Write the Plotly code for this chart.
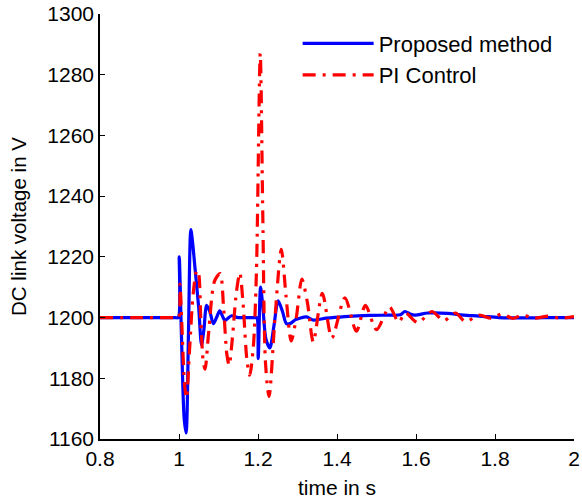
import plotly.graph_objects as go

# ---- data ----
t_proposed = [0.8, 0.9, 0.99, 0.998, 1.0006, 1.006, 1.013, 1.018, 1.024, 1.030, 1.035, 1.040,
              1.050, 1.057, 1.063, 1.070, 1.078, 1.087, 1.095, 1.103, 1.110, 1.116, 1.124,
              1.133, 1.15, 1.18, 1.192, 1.197, 1.2005, 1.2065, 1.212, 1.220, 1.230, 1.240, 1.251,
              1.262, 1.272, 1.281, 1.295, 1.306, 1.323, 1.339, 1.373, 1.42, 1.483, 1.53,
              1.56, 1.572, 1.585, 1.597, 1.63, 1.68, 1.72, 1.76, 1.81, 1.85, 1.90, 1.95, 2.0]
v_proposed = [1200, 1200, 1200, 1200, 1220, 1195, 1167, 1162, 1195, 1229, 1224, 1217,
              1203, 1191, 1196, 1204, 1202, 1198, 1200, 1202.2, 1200.5, 1199, 1199.8,
              1200.6, 1200, 1200, 1200, 1200, 1186.5, 1210, 1204, 1193, 1190, 1197, 1205.5,
              1202, 1198, 1198, 1199.3, 1199.8, 1200.2, 1199.2, 1199.8, 1200.3, 1200.7, 1200.8,
              1200.9, 1202, 1201.2, 1200.8, 1201.5, 1201.4, 1200.8, 1200.5, 1200, 1199.9, 1199.9, 1200, 1200]

t_pi = [0.8, 0.9, 0.99, 0.999, 1.0024, 1.008, 1.014, 1.019, 1.027, 1.036, 1.045, 1.049, 1.055,
        1.061, 1.066, 1.075, 1.090, 1.104, 1.113, 1.121, 1.127, 1.135, 1.145, 1.154, 1.162,
        1.172, 1.179, 1.188, 1.196, 1.2057, 1.212, 1.219, 1.228, 1.243, 1.259, 1.271, 1.284,
        1.297, 1.311, 1.325, 1.34, 1.363, 1.387, 1.42, 1.449, 1.472, 1.50, 1.533, 1.556,
        1.573, 1.605, 1.64, 1.67, 1.70, 1.725, 1.76, 1.79, 1.818, 1.845, 1.868, 1.90,
        1.935, 1.965, 2.0]
v_pi = [1200, 1200, 1200, 1200, 1211, 1195, 1178, 1173.5, 1190, 1208, 1215.5, 1215, 1200,
        1186, 1183, 1195, 1212, 1214.5, 1203, 1188, 1184.3, 1193, 1208, 1214.7, 1205,
        1186, 1181, 1190, 1215, 1287, 1235, 1185, 1174, 1200, 1222.5, 1207, 1192.3,
        1200, 1212.7, 1205, 1192, 1208, 1193.3, 1206.5, 1195.5, 1204, 1196, 1203.5, 1198.5,
        1201.5, 1198.3, 1202, 1199, 1201.5, 1198.7, 1200.8, 1199.8, 1201.2, 1199.7, 1200.8, 1199.8,
        1200.5, 1199.8, 1200.3]

x_ticks = [0.8, 1.0, 1.2, 1.4, 1.6, 1.8, 2.0]
x_ticktext = ["0.8", "1", "1.2", "1.4", "1.6", "1.8", "2"]
y_ticks = [1160, 1180, 1200, 1220, 1240, 1260, 1280, 1300]

FONT = "Liberation Sans, Arial, Helvetica, sans-serif"

fig = go.Figure()
fig.add_trace(go.Scatter(
    x=t_proposed, y=v_proposed, mode="lines", name="Proposed method",
    line=dict(color="#0000ff", width=3.2, shape="spline", smoothing=0.8),
))
fig.add_trace(go.Scatter(
    x=t_pi, y=v_pi, mode="lines", name="PI Control",
    line=dict(color="#ff0000", width=3.2, shape="spline", smoothing=0.8,
              dash="13px,7px,3px,7px"),
))

axis_common = dict(
    showline=True, linecolor="black", linewidth=1.5,
    ticks="inside", ticklen=5, tickwidth=1, tickcolor="black",
    showgrid=False, zeroline=False, automargin=False,
    tickfont=dict(family=FONT, size=21, color="black"),
)

fig.update_layout(
    width=582, height=499,
    margin=dict(l=100, r=8, t=14, b=60),
    paper_bgcolor="white", plot_bgcolor="white",
    font=dict(family=FONT, size=21, color="black"),
    showlegend=True,
    legend=dict(x=0.417, y=0.98, xanchor="left", yanchor="top",
                bgcolor="rgba(0,0,0,0)", borderwidth=0,
                font=dict(family=FONT, size=22, color="black"),
                itemwidth=71, tracegroupgap=0),
    xaxis=dict(range=[0.8, 2.0], tickvals=x_ticks, ticktext=x_ticktext,
               title=dict(text="time in s", font=dict(family=FONT, size=21)),
               **axis_common),
    yaxis=dict(range=[1160, 1300], tickvals=y_ticks,
               title=dict(text="DC link voltage in V", font=dict(family=FONT, size=20.5)),
               **axis_common),
    # top and right axes of the box (ticks only, no labels)
    xaxis2=dict(overlaying="x", side="top", anchor="y", matches="x",
                range=[0.8, 2.0], tickvals=x_ticks, showticklabels=False,
                **axis_common),
    yaxis2=dict(overlaying="y", side="right", anchor="x", matches="y",
                range=[1160, 1300], tickvals=y_ticks, showticklabels=False,
                **axis_common),
)

# place the figure at the page's top-left corner (remove the default body margin)
fig.write_html("out.html", config={"displayModeBar": False},
               post_script="document.body.style.margin='0px';document.body.style.overflow='hidden';")
